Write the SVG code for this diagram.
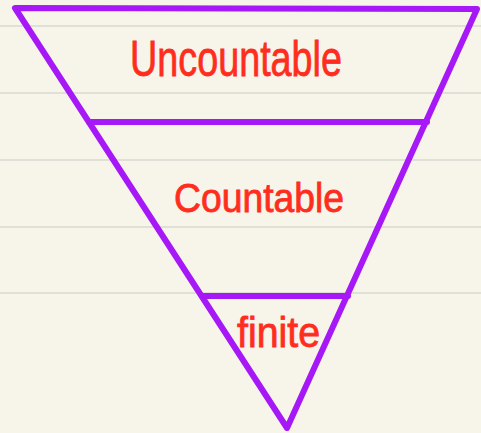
<svg xmlns="http://www.w3.org/2000/svg" width="481" height="433" viewBox="0 0 481 433">
  <style>
    .rule { stroke: #d9d8d2; stroke-width: 1.6; }
    .edge { stroke: #a718f7; stroke-width: 6; stroke-linecap: round; stroke-linejoin: round; fill: none; }
    .label { fill: #ff2d1e; stroke: #ff2d1e; stroke-width: 0.8; font-family: "Liberation Sans", "DejaVu Sans", sans-serif; }
  </style>
  <rect width="481" height="433" fill="#f7f5ea"/>
  <g id="paper-rules">
    <line class="rule" x1="0" y1="26" x2="481" y2="26"/>
    <line class="rule" x1="0" y1="93" x2="481" y2="93"/>
    <line class="rule" x1="0" y1="160" x2="481" y2="160"/>
    <line class="rule" x1="0" y1="227" x2="481" y2="227"/>
    <line class="rule" x1="0" y1="293" x2="481" y2="293"/>
  </g>
  <g id="connectors">
    <polygon class="edge" points="15,8 477,9 287,428"/>
    <line class="edge" x1="89" y1="122" x2="427" y2="122"/>
    <line class="edge" x1="202" y1="296" x2="348" y2="296"/>
  </g>
  <g id="uncountable">
    <text class="label" x="130" y="76" font-size="50" textLength="212" lengthAdjust="spacingAndGlyphs">Uncountable</text>
  </g>
  <g id="countable">
    <text class="label" x="174" y="212" font-size="40" textLength="170" lengthAdjust="spacingAndGlyphs">Countable</text>
  </g>
  <g id="finite">
    <text class="label" x="237" y="347" font-size="42" textLength="83" lengthAdjust="spacingAndGlyphs">finite</text>
  </g>
</svg>
